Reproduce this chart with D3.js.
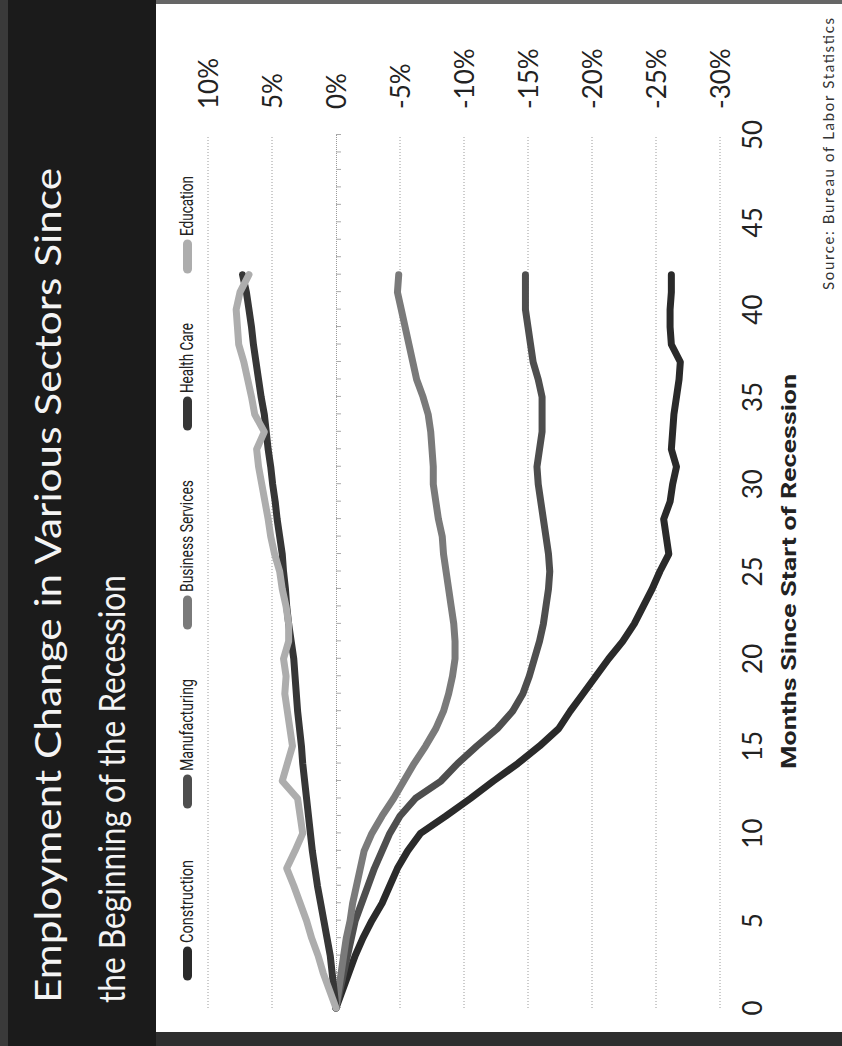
<!DOCTYPE html>
<html>
<head>
<meta charset="utf-8">
<script src="https://cdn.jsdelivr.net/npm/d3@7"></script>
<style>
  html, body { margin: 0; padding: 0; background: #fff; }
  svg { display: block; }
</style>
</head>
<body>
<div id="chart"></div>
<script>
// ---------- data ----------
const months = d3.range(0, 43);
const seriesNames = ["Construction", "Manufacturing", "Business Services", "Health Care", "Education"];
const construction = [0,-0.5,-1.0,-1.5,-2.1,-2.8,-3.6,-4.2,-4.8,-5.6,-6.6,-8.6,-10.5,-12.3,-14.2,-15.9,-17.4,-18.3,-19.3,-20.3,-21.3,-22.4,-23.3,-24.0,-24.7,-25.3,-26.0,-25.8,-25.6,-26.1,-26.3,-26.6,-26.2,-26.3,-26.4,-26.6,-26.8,-26.9,-26.2,-26.1,-26.1,-26.2,-26.2];
const manufacturing = [0,-0.3,-0.6,-0.9,-1.2,-1.5,-2.0,-2.5,-3.0,-3.6,-4.2,-5.0,-6.2,-8.2,-9.5,-11.0,-12.6,-13.8,-14.6,-15.1,-15.5,-15.9,-16.2,-16.4,-16.6,-16.7,-16.6,-16.4,-16.2,-16.0,-15.8,-15.7,-15.9,-16.1,-16.1,-16.1,-15.8,-15.4,-15.2,-15.0,-14.8,-14.8,-14.8];
const businessServices = [0,-0.2,-0.4,-0.6,-0.8,-1.1,-1.3,-1.6,-1.9,-2.2,-2.8,-3.6,-4.5,-5.3,-6.1,-7.0,-7.8,-8.4,-8.8,-9.1,-9.3,-9.3,-9.2,-9.0,-8.8,-8.6,-8.4,-8.3,-8.0,-7.8,-7.6,-7.6,-7.5,-7.4,-7.2,-6.8,-6.3,-6.0,-5.7,-5.4,-5.1,-4.8,-4.9];
const healthCare = [0,0.15,0.3,0.45,0.7,0.95,1.2,1.45,1.65,1.85,2.0,2.15,2.3,2.45,2.6,2.7,2.85,3.0,3.1,3.2,3.3,3.5,3.7,3.85,3.95,4.1,4.2,4.4,4.6,4.75,4.95,5.1,5.3,5.45,5.6,5.85,6.05,6.25,6.45,6.6,6.8,7.0,7.3];
const education = [0,0.5,1.0,1.4,1.9,2.3,2.8,3.3,3.85,3.2,2.6,2.8,3.0,4.2,3.8,3.4,3.6,3.8,4.0,3.9,4.1,3.7,3.7,3.9,4.2,4.4,4.8,5.1,5.3,5.55,5.8,6.05,6.2,5.6,6.35,6.6,6.9,7.2,7.6,7.7,7.8,7.5,6.8];
const monthTicks = [0,5,10,15,20,25,30,35,40,45,50];
const pctTicks = [10,5,0,-5,-10,-15,-20,-25,-30];
const titleLines = ["Employment Change in Various Sectors Since", "the Beginning of the Recession"];
const xTitle = "Months Since Start of Recession";
const sourceText = "Source: Bureau of Labor Statistics";

// ---------- layout (landscape, rotated -90deg onto the page) ----------
const PW = 842, PH = 1046;
const colors = ["#2a2a2a", "#4e4e4e", "#7a7a7a", "#363636", "#adadad"];
const seriesData = [construction, manufacturing, businessServices, healthCare, education];

const svg = d3.select("#chart").append("svg")
  .attr("width", PW).attr("height", PH);

svg.append("rect").attr("x", 0).attr("y", 0).attr("width", PW).attr("height", PH).attr("fill", "#fff");
svg.append("rect").attr("x", 0).attr("y", 0).attr("width", PW).attr("height", 4).attr("fill", "#666");
svg.append("rect").attr("x", 0).attr("y", 1032).attr("width", PW).attr("height", 14).attr("fill", "#2e2e2e");
svg.append("rect").attr("x", 0).attr("y", 0).attr("width", 156).attr("height", PH).attr("fill", "#1b1b1b");
svg.append("rect").attr("x", 0).attr("y", 0).attr("width", 8).attr("height", PH).attr("fill", "#3a3a3a");

const g = svg.append("g").attr("transform", `translate(0,${PH}) rotate(-90)`);

const x = d3.scaleLinear().domain([0, 50]).range([38, 911]);
const y = d3.scaleLinear().domain([10, -30]).range([208, 720]);

// gridlines
g.append("g").selectAll("line").data(pctTicks.filter(d => d !== 0)).join("line")
  .attr("x1", x(0)).attr("x2", x(50))
  .attr("y1", d => y(d)).attr("y2", d => y(d))
  .attr("stroke", "#9a9a9a").attr("stroke-width", 1).attr("stroke-dasharray", "1,2");

// zero axis with monthly minor ticks
const xAxis = d3.axisBottom(x).tickValues(d3.range(0, 51)).tickSize(5).tickFormat("");
const axG = g.append("g").attr("transform", `translate(0,${y(0)})`).call(xAxis);
axG.select(".domain").attr("stroke", "#9a9a9a").attr("stroke-dasharray", "1,1");
axG.selectAll(".tick line").attr("stroke", "#aaa");

// percent labels
g.append("g").selectAll("text").data(pctTicks).join("text")
  .attr("x", 937).attr("y", d => y(d))
  .attr("dominant-baseline", "central")
  .attr("font-family", "Lato, 'Open Sans', sans-serif")
  .attr("font-size", 26).attr("fill", "#222")
  .text(d => d + "%");

// month labels
g.append("g").selectAll("text").data(monthTicks).join("text")
  .attr("x", d => x(d)).attr("y", 752)
  .attr("text-anchor", "middle").attr("dominant-baseline", "central")
  .attr("font-family", "Lato, 'Open Sans', sans-serif")
  .attr("font-size", 26).attr("fill", "#222")
  .text(d => d);

// axis title
g.append("text")
  .attr("x", x(25)).attr("y", 796)
  .attr("text-anchor", "middle")
  .attr("font-family", "'Liberation Sans Narrow', 'Roboto', sans-serif")
  .attr("font-weight", "bold").attr("font-size", 21).attr("fill", "#222")
  .attr("textLength", 395).attr("lengthAdjust", "spacingAndGlyphs")
  .text(xTitle);

// source
g.append("text")
  .attr("x", 1028).attr("y", 834)
  .attr("text-anchor", "end")
  .attr("font-family", "Lato, 'Open Sans', sans-serif")
  .attr("font-size", 15).attr("fill", "#333")
  .attr("textLength", 272).attr("lengthAdjust", "spacing")
  .text(sourceText);

// title
const titleLens = [835, 428];
const titleY = [61, 125];
g.append("g").selectAll("text").data(titleLines).join("text")
  .attr("x", 43).attr("y", (d, i) => titleY[i])
  .attr("font-family", "Lato, 'Open Sans', sans-serif")
  .attr("font-size", 36).attr("fill", "#f4f4f4")
  .attr("textLength", (d, i) => titleLens[i]).attr("lengthAdjust", "spacingAndGlyphs")
  .text(d => d);

// lines
const line = d3.line().x((d, i) => x(months[i])).y(d => y(d));
g.append("g").selectAll("path").data(seriesData).join("path")
  .attr("d", d => line(d))
  .attr("fill", "none")
  .attr("stroke", (d, i) => colors[i])
  .attr("stroke-width", 7)
  .attr("stroke-linejoin", "round")
  .attr("stroke-linecap", "round");

// legend
const legStart = [66, 238, 417, 616, 773];
const legLen = [83, 92, 112, 70, 60];
const leg = g.append("g").selectAll("g").data(seriesNames).join("g")
  .attr("transform", (d, i) => `translate(${legStart[i]},0)`);
leg.append("line")
  .attr("x1", 4).attr("x2", 29).attr("y1", 187.5).attr("y2", 187.5)
  .attr("stroke", (d, i) => colors[i]).attr("stroke-width", 9).attr("stroke-linecap", "round");
leg.append("text")
  .attr("x", 37).attr("y", 193)
  .attr("font-family", "'Liberation Sans Narrow', 'Roboto', sans-serif")
  .attr("font-size", 19).attr("fill", "#222")
  .attr("textLength", (d, i) => legLen[i]).attr("lengthAdjust", "spacingAndGlyphs")
  .text(d => d);
</script>
</body>
</html>
